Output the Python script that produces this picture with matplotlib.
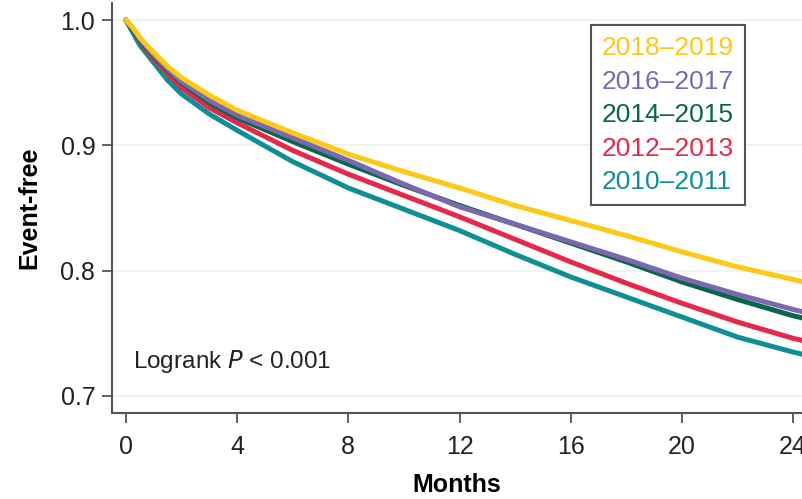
import matplotlib
matplotlib.use('Agg')
import matplotlib.pyplot as plt

plt.rcParams['font.family'] = ['Liberation Sans', 'DejaVu Sans']

months = [0, 0.25, 0.5, 1, 1.5, 2, 3, 4, 6, 8, 10, 12, 14, 16, 18, 20, 22, 24, 24.4]

y2018 = [1.0, 0.994, 0.986, 0.974, 0.963, 0.954, 0.940, 0.928, 0.910, 0.893, 0.879, 0.866, 0.852, 0.840, 0.828, 0.815, 0.803, 0.793, 0.791]
y2016 = [1.0, 0.993, 0.985, 0.972, 0.961, 0.951, 0.936, 0.924, 0.906, 0.888, 0.869, 0.851, 0.837, 0.823, 0.809, 0.794, 0.781, 0.769, 0.767]
y2014 = [1.0, 0.992, 0.984, 0.971, 0.960, 0.950, 0.934, 0.922, 0.903, 0.885, 0.868, 0.852, 0.837, 0.822, 0.807, 0.791, 0.777, 0.764, 0.762]
y2012 = [1.0, 0.992, 0.983, 0.969, 0.957, 0.946, 0.930, 0.918, 0.896, 0.877, 0.860, 0.843, 0.825, 0.807, 0.790, 0.774, 0.759, 0.746, 0.744]
y2010 = [1.0, 0.990, 0.980, 0.966, 0.952, 0.941, 0.925, 0.912, 0.887, 0.866, 0.849, 0.832, 0.813, 0.795, 0.779, 0.763, 0.747, 0.735, 0.733]

labels = ['2018–2019', '2016–2017', '2014–2015', '2012–2013', '2010–2011']
series = [y2018, y2016, y2014, y2012, y2010]
colors = ['#fcc916', '#7b68ae', '#08664a', '#e4294b', '#0e8f97']

fig = plt.figure(figsize=(8.02, 4.99), dpi=100)
ax = fig.add_axes([112/802, 1-413/499, 1-112/802, 410/499])

# draw bottom curve first so yellow ends up on top
for ys, c in list(zip(series, colors))[::-1]:
    ax.plot(months, ys, color=c, lw=3.6, solid_capstyle='round', solid_joinstyle='round')

ax.set_xlim(-0.5, 24.32)
ax.set_ylim(0.6864, 1.0136)
ax.set_xticks([0, 4, 8, 12, 16, 20, 24])
ax.set_yticks([0.7, 0.8, 0.9, 1.0])
ax.set_yticklabels(['0.7', '0.8', '0.9', '1.0'])
for v in [0.7, 0.8, 0.9, 1.0]:
    ax.axhline(v, color='#e9f1ef', lw=1.2, zorder=0)

for s in ['top', 'right']:
    ax.spines[s].set_visible(False)
for s in ['left', 'bottom']:
    ax.spines[s].set_color('#555555')
    ax.spines[s].set_linewidth(1.5)
ax.tick_params(axis='both', direction='out', length=7, width=1.3, color='#555555',
               labelsize=18, labelcolor='#222222')
ax.tick_params(axis='x', pad=9)
ax.tick_params(axis='y', pad=5)

ax.set_xlabel('Months', fontsize=18, fontweight='bold', labelpad=10)
ax.set_ylabel('Event-free', fontsize=18, fontweight='bold', labelpad=14)

ax.text(0.25, 0.7275, 'Logrank $\\it{P}$ < 0.001', fontsize=17.5, color='#222222',
        va='center', ha='left')

handles = [plt.Line2D([], [], color=c, lw=0) for c in colors]
leg = ax.legend(handles, labels, loc='upper left',
                bbox_to_anchor=(591/802, 1-25/499), bbox_transform=fig.transFigure,
                fontsize=19, handlelength=0, handletextpad=0, labelspacing=0.36,
                borderpad=0.42, borderaxespad=0, fancybox=False, framealpha=1)
leg.get_frame().set_edgecolor('#555555')
leg.get_frame().set_linewidth(1.5)
for t, c in zip(leg.get_texts(), colors):
    t.set_color(c)

fig.savefig('out.png', dpi=100)
